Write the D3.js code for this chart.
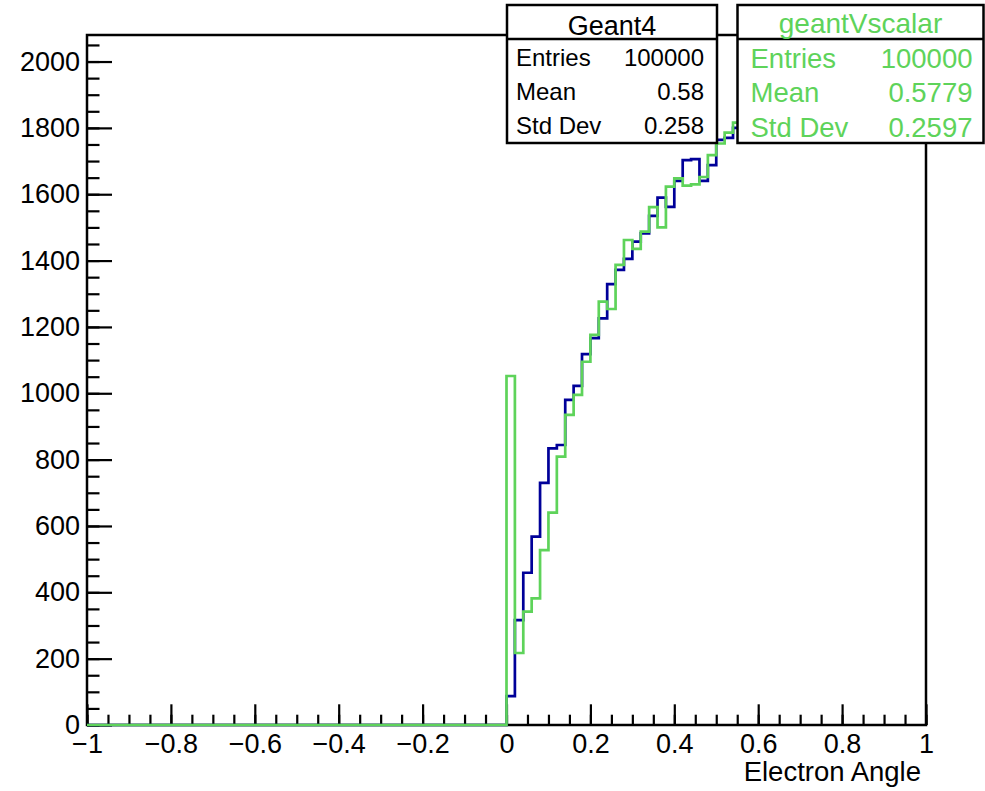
<!DOCTYPE html>
<html>
<head>
<meta charset="utf-8">
<script src="https://cdn.jsdelivr.net/npm/d3@7"></script>
<style>
  body { margin: 0; background: #fff; }
  text { font-family: "Liberation Sans", Arial, Helvetica, sans-serif; }
</style>
</head>
<body>
<svg width="985" height="791"></svg>
<script>
// histogram: 100 bins of 0.02 from -1 to 1 (first 50 bins are empty)
const binLow = d3.range(100).map(i => -1 + i * 0.02);

const geant4 = [
  0,0,0,0,0,0,0,0,0,0, 0,0,0,0,0,0,0,0,0,0,
  0,0,0,0,0,0,0,0,0,0, 0,0,0,0,0,0,0,0,0,0,
  0,0,0,0,0,0,0,0,0,0,
  87, 316, 459, 568, 730, 834, 844, 980, 1022, 1118,
  1166, 1226, 1329, 1372, 1405, 1457, 1482, 1535, 1590, 1562,
  1640, 1703, 1706, 1640, 1688, 1764, 1770, 1800, 1812, 1830,
  1846, 1858, 1870, 1884, 1890, 1902, 1911, 1920, 1928, 1936,
  1941, 1949, 1953, 1960, 1964, 1970, 1972, 1976, 1981, 1978
];

const geantVscalar = [
  0,0,0,0,0,0,0,0,0,0, 0,0,0,0,0,0,0,0,0,0,
  0,0,0,0,0,0,0,0,0,0, 0,0,0,0,0,0,0,0,0,0,
  0,0,0,0,0,0,0,0,0,0,
  1052, 217, 342, 382, 527, 640, 809, 935, 995, 1095,
  1176, 1276, 1254, 1387, 1462, 1435, 1487, 1561, 1500, 1623,
  1648, 1626, 1630, 1652, 1718, 1753, 1786, 1816, 1822, 1838,
  1850, 1861, 1875, 1880, 1893, 1900, 1912, 1918, 1925, 1933,
  1940, 1944, 1950, 1957, 1961, 1966, 1970, 1973, 1977, 1975
];

const xMajorTicks = [-1, -0.8, -0.6, -0.4, -0.2, 0, 0.2, 0.4, 0.6, 0.8, 1];
const yMajorTicks = [0, 200, 400, 600, 800, 1000, 1200, 1400, 1600, 1800, 2000];

const statLabels = ['Entries', 'Mean', 'Std Dev'];
const geant4Stats = ['100000', '0.58', '0.258'];
const scalarStats = ['100000', '0.5779', '0.2597'];

const blue = '#000099';
const green = '#5ed35a';

const svg = d3.select('svg');

// frame
const frame = { left: 87, right: 926, top: 35, bottom: 725 };

const x = d3.scaleLinear().domain([-1, 1]).range([frame.left, frame.right]);
const y = d3.scaleLinear().domain([0, 2080]).range([frame.bottom, frame.top]);

// minor ticks
svg.append('g')
  .attr('transform', `translate(0,${frame.bottom})`)
  .call(d3.axisBottom(x).tickValues(d3.range(-1, 1.0001, 0.05)).tickSize(-10.3).tickFormat(''))
  .call(g => g.select('.domain').remove());
svg.append('g')
  .attr('transform', `translate(${frame.left},0)`)
  .call(d3.axisLeft(y).tickValues(d3.range(0, 2051, 50)).tickSize(-12.5).tickFormat(''))
  .call(g => g.select('.domain').remove());

// major ticks + labels
const fmtX = d => d === 0 ? '0' : (d < 0 ? '\u2212' : '') + Math.abs(d);
const xAxis = svg.append('g')
  .attr('transform', `translate(0,${frame.bottom})`)
  .call(d3.axisBottom(x).tickValues(xMajorTicks).tickSize(-20.7).tickPadding(9).tickFormat(fmtX));
xAxis.select('.domain').remove();

const yAxis = svg.append('g')
  .attr('transform', `translate(${frame.left},0)`)
  .call(d3.axisLeft(y).tickValues(yMajorTicks).tickSize(-25).tickPadding(7).tickFormat(d3.format('d')));
yAxis.select('.domain').remove();

svg.selectAll('.tick line').attr('stroke', '#000').attr('stroke-width', 2.2);
svg.selectAll('.tick text').attr('fill', '#000').style('font-size', '27px');

// frame box
svg.append('rect')
  .attr('x', frame.left).attr('y', frame.top)
  .attr('width', frame.right - frame.left).attr('height', frame.bottom - frame.top)
  .attr('fill', 'none').attr('stroke', '#000').attr('stroke-width', 2.5);

// histograms as step lines
const stepLine = values => {
  const pts = values.map((v, i) => [binLow[i], v]);
  pts.push([1, values[values.length - 1]]);
  return d3.line().x(d => x(d[0])).y(d => y(d[1])).curve(d3.curveStepAfter)(pts);
};

svg.append('path').attr('d', stepLine(geant4))
  .attr('fill', 'none').attr('stroke', blue).attr('stroke-width', 2.7);
svg.append('path').attr('d', stepLine(geantVscalar))
  .attr('fill', 'none').attr('stroke', green).attr('stroke-width', 2.7);

// axis title
svg.append('text')
  .attr('x', 921).attr('y', 781)
  .attr('text-anchor', 'end')
  .style('font-size', '27.5px')
  .text('Electron Angle');

// stat boxes
const statBox = (bx, bw, title, stats, color, titleSize, rowSize, titleY, rowY, padL, padR) => {
  const g = svg.append('g');
  g.append('rect').attr('x', bx).attr('y', 5).attr('width', bw).attr('height', 138)
    .attr('fill', '#fff').attr('stroke', '#000').attr('stroke-width', 2.5);
  g.append('line').attr('x1', bx).attr('x2', bx + bw).attr('y1', 39).attr('y2', 39)
    .attr('stroke', '#000').attr('stroke-width', 2.5);
  g.append('text').attr('x', bx + bw / 2).attr('y', titleY)
    .attr('text-anchor', 'middle').attr('fill', color)
    .style('font-size', titleSize + 'px').text(title);
  statLabels.forEach((lab, i) => {
    g.append('text').attr('x', bx + padL).attr('y', rowY[i])
      .attr('fill', color).style('font-size', rowSize + 'px').text(lab);
    g.append('text').attr('x', bx + bw - padR).attr('y', rowY[i])
      .attr('text-anchor', 'end')
      .attr('fill', color).style('font-size', rowSize + 'px').text(stats[i]);
  });
};

statBox(507, 210, 'Geant4', geant4Stats, '#000', 27, 24, 35, [66, 100, 134], 9, 13);
statBox(737.5, 246, 'geantVscalar', scalarStats, green, 28, 27.5, 33, [68, 102, 137], 13, 11);
</script>
</body>
</html>
